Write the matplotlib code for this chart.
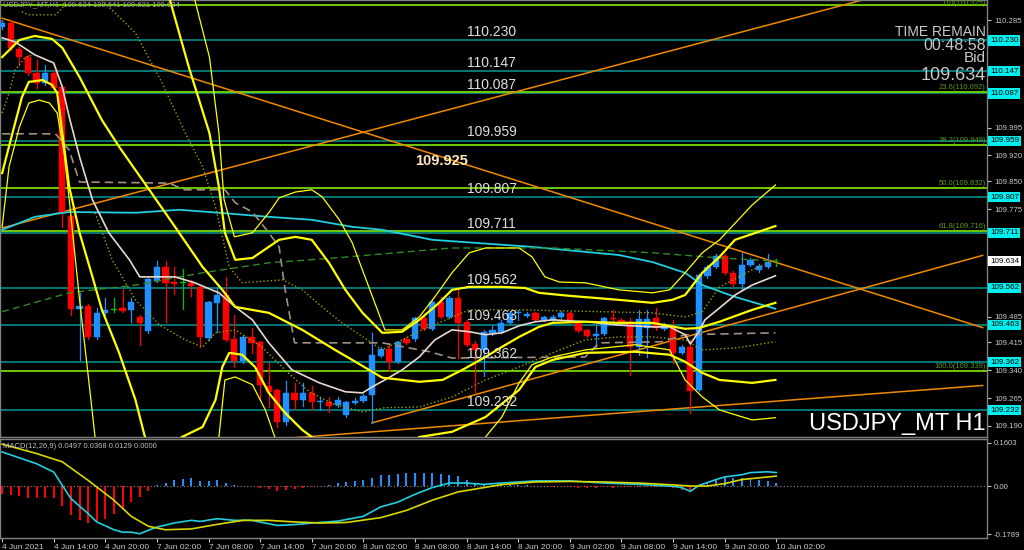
import matplotlib
matplotlib.use("Agg")
import matplotlib.pyplot as plt
import matplotlib.transforms as mtransforms

plt.rcParams['font.family'] = ['Liberation Sans', 'DejaVu Sans']

# ---- USDJPY H1 candles, bar 0 = 4 Jun 08:00, bar 90 = 10 Jun 02:00 ----
opens = [110.266, 110.277, 110.207, 110.185, 110.142, 110.115, 110.142, 110.104, 109.756, 109.506,
         109.514, 109.430, 109.495, 109.503, 109.508, 109.503, 109.484, 109.446, 109.581, 109.619,
         109.578, 109.576, 109.576, 109.565, 109.427, 109.522, 109.543, 109.425, 109.365, 109.430,
         109.417, 109.298, 109.287, 109.201, 109.279, 109.260, 109.279, 109.255, 109.255, 109.247,
         109.220, 109.252, 109.258, 109.274, 109.379, 109.398, 109.363, 109.425, 109.425, 109.481,
         109.452, 109.525, 109.484, 109.535, 109.471, 109.411, 109.395, 109.441, 109.444, 109.468,
         109.494, 109.487, 109.495, 109.476, 109.476, 109.484, 109.495, 109.468, 109.449, 109.433,
         109.438, 109.480, 109.476, 109.471, 109.403, 109.454, 109.481, 109.452, 109.460, 109.387,
         109.403, 109.287, 109.595, 109.619, 109.649, 109.603, 109.573, 109.624, 109.611, 109.619,
         109.634]
highs = [110.285, 110.285, 110.212, 110.190, 110.177, 110.164, 110.150, 110.110, 109.760, 109.549,
         109.518, 109.508, 109.535, 109.535, 109.560, 109.535, 109.490, 109.590, 109.635, 109.635,
         109.619, 109.614, 109.584, 109.570, 109.528, 109.565, 109.592, 109.489, 109.435, 109.454,
         109.420, 109.360, 109.290, 109.311, 109.306, 109.306, 109.298, 109.268, 109.268, 109.268,
         109.258, 109.265, 109.276, 109.441, 109.403, 109.414, 109.420, 109.430, 109.484, 109.490,
         109.530, 109.538, 109.540, 109.557, 109.476, 109.420, 109.450, 109.460, 109.476, 109.500,
         109.503, 109.498, 109.498, 109.487, 109.490, 109.500, 109.498, 109.471, 109.452, 109.462,
         109.484, 109.503, 109.480, 109.481, 109.503, 109.503, 109.508, 109.468, 109.476, 109.408,
         109.422, 109.600, 109.625, 109.655, 109.655, 109.608, 109.657, 109.643, 109.627, 109.654,
         109.641]
lows = [110.260, 110.205, 110.164, 110.137, 110.102, 110.110, 110.098, 109.727, 109.489, 109.368,
        109.425, 109.425, 109.490, 109.498, 109.497, 109.471, 109.409, 109.440, 109.578, 109.471,
        109.545, 109.506, 109.540, 109.403, 109.422, 109.444, 109.418, 109.350, 109.360, 109.387,
        109.260, 109.241, 109.187, 109.193, 109.236, 109.244, 109.233, 109.233, 109.228, 109.240,
        109.215, 109.248, 109.255, 109.198, 109.375, 109.339, 109.360, 109.410, 109.420, 109.448,
        109.448, 109.480, 109.480, 109.374, 109.405, 109.282, 109.325, 109.435, 109.440, 109.465,
        109.476, 109.484, 109.473, 109.473, 109.473, 109.481, 109.473, 109.443, 109.430, 109.403,
        109.435, 109.468, 109.468, 109.328, 109.382, 109.376, 109.449, 109.449, 109.360, 109.384,
        109.225, 109.284, 109.590, 109.615, 109.600, 109.568, 109.557, 109.620, 109.606, 109.615,
        109.621]
closes = [110.277, 110.210, 110.185, 110.142, 110.115, 110.142, 110.102, 109.765, 109.506, 109.514,
          109.430, 109.495, 109.503, 109.503, 109.500, 109.525, 109.468, 109.587, 109.619, 109.576,
          109.573, 109.576, 109.568, 109.430, 109.525, 109.543, 109.422, 109.365, 109.430, 109.414,
          109.301, 109.282, 109.201, 109.279, 109.260, 109.279, 109.255, 109.256, 109.244, 109.260,
          109.255, 109.258, 109.271, 109.382, 109.398, 109.363, 109.417, 109.414, 109.481, 109.452,
          109.525, 109.484, 109.535, 109.468, 109.409, 109.395, 109.444, 109.449, 109.468, 109.495,
          109.496, 109.492, 109.476, 109.484, 109.484, 109.495, 109.476, 109.446, 109.433, 109.438,
          109.481, 109.478, 109.471, 109.403, 109.479, 109.479, 109.454, 109.463, 109.387, 109.403,
          109.285, 109.597, 109.619, 109.649, 109.603, 109.573, 109.624, 109.638, 109.622, 109.632,
          109.634]

time_ticks = [0, 6, 12, 18, 24, 30, 36, 42, 48, 54, 60, 66, 72, 78, 84, 90]
time_labels = ["4 Jun 2021", "4 Jun 14:00", "4 Jun 20:00", "7 Jun 02:00", "7 Jun 08:00",
               "7 Jun 14:00", "7 Jun 20:00", "8 Jun 02:00", "8 Jun 08:00", "8 Jun 14:00",
               "8 Jun 20:00", "9 Jun 02:00", "9 Jun 08:00", "9 Jun 14:00", "9 Jun 20:00",
               "10 Jun 02:00"]

# support / resistance levels and fibo levels
sr_levels = [110.230, 110.147, 110.087, 109.959, 109.807, 109.711, 109.562, 109.463, 109.362, 109.232]
fib_pcts = ["0.0", "23.6", "38.2", "50.0", "61.8", "100.0"]
fib_levels = [110.325, 110.092, 109.949, 109.832, 109.716, 109.339]
# scale ticks that are not hidden under the level boxes
price_ticks = [110.285, 109.995, 109.920, 109.850, 109.775,
               109.485, 109.415, 109.340, 109.265, 109.190]
bid = 109.634

# trend lines (bar, price) pairs
trend_lines = [
    ([0, 114], [110.290, 109.455]),
    ([0, 114], [109.724, 110.425]),
    ([43, 114], [109.198, 109.650]),
    ([30, 114], [109.151, 109.299]),
]

# indicator lines
ma_fast_x = [0, 1.5, 3.8, 6.0, 7.0, 7.8, 9.0, 10.5, 12.4, 14.8, 16.0, 20.1, 22.4, 25.2, 27.1, 29.1, 31.0,
             33.7, 36.9, 39.9, 41.9, 43.0, 44.5, 46.5, 48.5, 50.3, 52.3, 54.3, 56.2, 58.1, 60.1, 62.0,
             64.0, 67.8, 71.7, 75.6, 77.6, 79.4, 80.0, 81.0, 81.7, 83.4, 85.2, 87.2, 89.9]
ma_fast_y = [110.237, 110.226, 110.191, 110.169, 110.104, 110.023, 109.916, 109.800, 109.711, 109.638,
             109.592, 109.592, 109.576, 109.549, 109.511, 109.476, 109.414, 109.341, 109.306, 109.282,
             109.279, 109.295, 109.314, 109.341, 109.376, 109.422, 109.449, 109.444, 109.436, 109.441,
             109.460, 109.471, 109.476, 109.471, 109.462, 109.457, 109.457, 109.436, 109.411, 109.444,
             109.476, 109.508, 109.543, 109.570, 109.595]
ma_slow_x = [0, 3.8, 7.8, 15.5, 20.6, 25.2, 31.0, 36.0, 40.7, 44.2, 50.0, 61.6, 71.7, 75.6, 79.4, 81.4,
             85.2, 89.9]
ma_slow_y = [109.719, 109.754, 109.767, 109.765, 109.773, 109.765, 109.754, 109.746, 109.727, 109.719,
             109.692, 109.673, 109.651, 109.632, 109.603, 109.570, 109.538, 109.506]
ma_long_x = [0, 7.8, 15.5, 23.3, 31.0, 38.7, 52.3, 64.0, 75.6, 83.4, 89.9]
ma_long_y = [109.498, 109.549, 109.570, 109.603, 109.630, 109.643, 109.670, 109.670, 109.657, 109.643,
             109.635]
kijun_x = [0, 6.2, 7.8, 9.0, 19.4, 21.2, 25.9, 27.1, 29.1, 31.0, 32.2, 32.9, 34.0, 44.2, 49.7, 52.3,
           67.8, 69.4, 76.7, 79.4, 89.9]
kijun_y = [109.978, 109.978, 109.934, 109.848, 109.845, 109.827, 109.827, 109.792, 109.767, 109.711,
           109.673, 109.557, 109.414, 109.414, 109.390, 109.373, 109.376, 109.414, 109.417, 109.436,
           109.441]
env_up_x = [11.6, 15.5, 18.6, 21.3, 23.3, 24.8, 26.4, 27.9, 32.6, 34.9, 37.2, 39.5, 44.2, 48.8, 54.3,
            60.1, 69.8, 75.6, 79.4, 81.4, 83.4, 87.2, 89.9]
env_up_y = [110.339, 110.250, 110.115, 109.980, 109.889, 109.781, 109.619, 109.576, 109.584, 109.557,
            109.511, 109.468, 109.395, 109.449, 109.503, 109.503, 109.498, 109.495, 109.484, 109.498,
            109.565, 109.611, 109.638]
env_dn_x = [10.8, 12.8, 15.5, 18.3, 21.3, 23.3, 24.8, 27.1, 30.2, 32.9, 35.7, 38.7, 41.9, 44.5, 48.5,
            52.3, 56.2, 60.1, 64.0, 67.8, 71.7, 75.6, 79.4, 81.4, 85.2, 89.9]
env_dn_y = [109.765, 109.638, 109.530, 109.462, 109.422, 109.403, 109.441, 109.449, 109.403, 109.341,
            109.282, 109.247, 109.228, 109.239, 109.241, 109.268, 109.314, 109.349, 109.387, 109.422,
            109.430, 109.430, 109.422, 109.395, 109.400, 109.417]
env_top_x = [0, 0.8, 1.5, 2.7, 3.5, 1.5, 2.3, 3.1, 6.2, 7.0, 7.3]
env_top_y = [110.034, 110.088, 110.150, 110.185, 110.190, None, 110.307, 110.299, 110.299, 110.317, 110.339]

bb1_x = [0, 2.0, 3.8, 5.8, 7.0, 9.0, 11.6, 13.6, 17.1, 20.1, 23.3, 25.6, 27.1, 31.0, 34.9, 38.7, 40.7,
         44.2, 48.5, 51.2, 53.5, 56.2, 58.1, 60.1, 62.4, 64.0, 67.8, 71.7, 75.6, 79.4, 81.0, 83.4, 87.2,
         89.9]
bb1_y = [110.185, 110.231, 110.242, 110.234, 110.210, 110.131, 110.015, 109.943, 109.827, 109.727,
         109.619, 109.557, 109.511, 109.495, 109.449, 109.395, 109.368, 109.320, 109.309, 109.314,
         109.341, 109.376, 109.403, 109.430, 109.457, 109.468, 109.471, 109.468, 109.468, 109.452,
         109.454, 109.471, 109.503, 109.522]
bb2_x = [0, 1.2, 2.3, 3.1, 4.7, 5.8, 6.4, 7.8, 9.0, 10.5, 11.6, 13.6, 15.5, 16.6]
bb2_y = [109.872, 109.980, 110.077, 110.118, 110.123, 110.110, 110.088, 109.835, 109.711, 109.592,
         109.503, 109.387, 109.260, 109.160]
bb3_x = [0, 0.8, 2.0, 3.1, 4.3, 5.5, 6.4, 7.2, 7.8, 9.0, 10.1, 10.8]
bb3_y = [109.727, 109.889, 109.996, 110.061, 110.069, 110.061, 110.034, 109.926, 109.800, 109.530,
         109.306, 109.160]
bb4_x = [19.5, 21.7, 24.1, 25.2, 25.9, 27.1, 29.1, 31.0, 32.2, 34.1, 36.0, 38.0, 39.9, 41.9, 44.2, 46.5,
         48.5, 50.8, 52.3, 54.3, 58.1, 60.8, 62.4, 65.9, 71.7, 75.6, 77.9, 79.4, 81.4, 83.4, 85.2, 89.9]
bb4_y = [110.339, 110.158, 109.980, 109.835, 109.711, 109.638, 109.643, 109.673, 109.692, 109.700,
         109.692, 109.630, 109.557, 109.495, 109.441, 109.444, 109.476, 109.522, 109.557, 109.565,
         109.565, 109.562, 109.549, 109.541, 109.530, 109.522, 109.530, 109.543, 109.603, 109.646,
         109.692, 109.729]
bb5_x = [22.4, 24.1, 25.2, 25.8, 27.0, 29.1, 31.0, 32.2, 34.1, 36.0, 37.2, 39.2, 40.7, 44.5, 46.5, 48.5,
         50.3, 52.3, 54.3, 56.2, 60.1, 61.6, 63.1, 64.8, 67.8, 71.7, 75.6, 77.6, 79.4, 81.4, 83.4, 87.2,
         89.9]
bb5_y = [110.339, 110.185, 109.980, 109.800, 109.700, 109.711, 109.765, 109.805, 109.821, 109.827,
         109.808, 109.746, 109.684, 109.449, 109.449, 109.484, 109.538, 109.603, 109.657, 109.670,
         109.670, 109.646, 109.592, 109.578, 109.576, 109.557, 109.549, 109.557, 109.603, 109.657,
         109.692, 109.786, 109.840]
bb6_x = [20.9, 23.3, 24.8, 25.6, 26.4, 27.9, 29.4, 31.0, 32.9, 34.9, 36.0, None, 48.5, 52.3, 56.2, 60.1,
         62.0, 64.0, 67.8, 73.6, 77.6, 79.4, 81.4, 83.4, 87.2, 89.9]
bb6_y = [109.160, 109.187, 109.260, 109.349, 109.387, 109.382, 109.349, 109.279, 109.225, 109.179,
         109.160, None, 109.160, 109.174, 109.214, 109.287, 109.349, 109.368, 109.387, 109.390, 109.382,
         109.363, 109.333, 109.314, 109.306, 109.314]
bb7_x = [25.2, 25.9, 27.1, 29.1, 30.6, 31.7, None, 56.2, 58.1, 60.1, 61.6, 64.0, 67.8, 73.6, 77.6, 79.4,
         81.4, 83.4, 87.2, 89.9]
bb7_y = [109.160, 109.314, 109.322, 109.301, 109.233, 109.160, None, 109.160, 109.214, 109.306, 109.355,
         109.376, 109.395, 109.409, 109.395, 109.314, 109.268, 109.233, 109.206, 109.212]

# MACD(12,26,9)
macd_hist = [-0.031, -0.035, -0.039, -0.045, -0.045, -0.045, -0.045, -0.076, -0.109, -0.126,
             -0.138, -0.131, -0.122, -0.103, -0.085, -0.060, -0.041, -0.019, 0.002, 0.012,
             0.021, 0.027, 0.030, 0.019, 0.020, 0.021, 0.012, 0.002, 0.001, 0.001,
             -0.006, -0.010, -0.019, -0.016, -0.012, -0.006, -0.004, -0.001, 0.004, 0.012,
             0.015, 0.019, 0.021, 0.031, 0.040, 0.042, 0.046, 0.048, 0.050, 0.048,
             0.050, 0.046, 0.042, 0.036, 0.021, 0.012, 0.006, 0.004, 0.003, 0.004,
             0.003, 0.002, 0.001, -0.001, -0.002, -0.001, -0.002, -0.006, -0.007, -0.006,
             -0.005, -0.006, -0.005, -0.004, -0.003, -0.004, -0.003, -0.004, -0.008, -0.014,
             -0.022, 0.002, 0.012, 0.021, 0.034, 0.030, 0.030, 0.027, 0.024, 0.019,
             0.013]
macd_x = [0, 4, 6, 7, 8, 10, 11, 13, 14, 15, 16, 17, 18, 20, 22, 23, 25, 27, 29, 32, 34, 36, 39, 42, 44,
          46, 48, 50, 52, 54, 56, 58, 62, 66, 70, 74, 78, 79, 80, 81, 83, 84, 86, 87, 89, 90]
macd_main = [0.127, 0.083, 0.052, 0.002, -0.047, -0.103, -0.134, -0.163, -0.172, -0.172, -0.178, -0.165,
             -0.153, -0.138, -0.128, -0.132, -0.122, -0.128, -0.128, -0.147, -0.144, -0.138, -0.131,
             -0.113, -0.078, -0.060, -0.031, -0.006, 0.011, 0.011, 0.006, 0.011, 0.019, 0.019, 0.011,
             0.006, -0.001, -0.006, -0.020, 0.002, 0.024, 0.034, 0.042, 0.050, 0.053, 0.050]
signal_x = [0, 4, 7, 10, 13, 15, 17, 19, 22, 25, 28, 31, 34, 37, 40, 44, 47, 50, 53, 56, 58, 62, 66, 70,
            74, 77, 80, 82, 84, 86, 90]
macd_signal = [0.156, 0.121, 0.090, 0.021, -0.053, -0.113, -0.150, -0.163, -0.160, -0.143, -0.128,
               -0.128, -0.134, -0.138, -0.136, -0.118, -0.091, -0.053, -0.022, -0.006, 0.005, 0.015,
               0.017, 0.015, 0.011, 0.006, 0.000, 0.000, 0.009, 0.024, 0.037]

BG = 'black'
GRID = '#808080'
TXT = '#c8c8c8'
BULL = '#1e90ff'
BEAR = '#ff0000'
TEAL = '#008b8b'
LIME = '#76d700'
ORANGE = '#f08a00'
YEL = '#ffff00'

fig = plt.figure(figsize=(10.24, 5.5), dpi=100, facecolor=BG)
ax = fig.add_axes([0, 1 - 437 / 550, 987 / 1024, 437 / 550], facecolor=BG)
axm = fig.add_axes([0, 1 - 538 / 550, 987 / 1024, 99 / 550], facecolor=BG)

xmin, xmax = -0.25, 114.5
ax.set_xlim(xmin, xmax)
ax.set_ylim(109.160, 110.339)
axm.set_xlim(xmin, xmax)
axm.set_ylim(-0.1938, 0.1752)

for a in (ax, axm):
    for s in a.spines.values():
        s.set_color(GRID)
        s.set_linewidth(1)
    a.yaxis.tick_right()
    a.tick_params(colors=TXT, labelsize=5.6, length=3, width=0.8, pad=2)

# levels
for lv in sr_levels:
    ax.axhline(lv, color=TEAL, lw=1.2, zorder=1)
    ax.text(54.0, lv + 0.012, f"{lv:.3f}", color='#e0e0e0', fontsize=10, zorder=8)
for pct, lv in zip(fib_pcts, fib_levels):
    ax.axhline(lv, color=LIME, lw=1.3, zorder=1)
    ty, tva = (lv + 0.002, 'bottom') if lv < 110.3 else (110.339, 'top')
    ax.text(114.35, ty, f"{pct}({lv:.3f})", color='#5a9a10', fontsize=5.5,
            ha='right', va=tva, zorder=8)

for xs, ys in trend_lines:
    ax.plot(xs, ys, color=ORANGE, lw=1.1, zorder=2)

# candles
for i, (o, h, l, c) in enumerate(zip(opens, highs, lows, closes)):
    col = BULL if c > o else (BEAR if c < o else '#00c000')
    ax.plot([i, i], [l, h], color=col, lw=0.9, zorder=3)
    lo, hi = min(o, c), max(o, c)
    ax.add_patch(plt.Rectangle((i - 0.36, lo), 0.72, max(hi - lo, 0.0012),
                               facecolor=col, edgecolor=col, lw=0.3, zorder=3))

# indicators
ax.plot(ma_slow_x, ma_slow_y, color='#20d0e0', lw=1.3, zorder=4)
ax.plot(ma_long_x, ma_long_y, color='#2e8b22', lw=1.0, ls=(0, (5, 3)), zorder=4)
ax.plot(kijun_x, kijun_y, color='#a09080', lw=1.2, ls=(0, (5, 3)), zorder=4)
ax.plot(env_up_x, env_up_y, color='#a0a000', lw=1.0, ls=':', zorder=4)
ax.plot(env_dn_x, env_dn_y, color='#a0a000', lw=1.0, ls=':', zorder=4)
ax.plot(env_top_x, env_top_y, color='#a0a000', lw=1.0, ls=':', zorder=4)
ax.plot(ma_fast_x, ma_fast_y, color='#e8d8d0', lw=1.2, zorder=5)
for xs, ys, w in [(bb1_x, bb1_y, 1.6), (bb2_x, bb2_y, 1.6), (bb3_x, bb3_y, 0.9),
                  (bb4_x, bb4_y, 1.6), (bb5_x, bb5_y, 0.9), (bb6_x, bb6_y, 1.6),
                  (bb7_x, bb7_y, 0.9)]:
    ax.plot(xs, ys, color=YEL, lw=w, zorder=5)

# right price scale
ax.set_yticks(price_ticks)
ax.set_yticklabels([f"{p:.3f}" for p in price_ticks])
ax.set_xticks([])
tr = mtransforms.blended_transform_factory(ax.transAxes, ax.transData)
for lv in sr_levels:
    ax.text(1.003, lv, f"{lv:.3f}", transform=tr, fontsize=5.8, color='black', va='center',
            ha='left', clip_on=False, zorder=10,
            bbox=dict(boxstyle='square,pad=0.2', facecolor='#00f0f0', edgecolor='none'))
ax.text(1.003, bid, f"{bid:.3f}", transform=tr, fontsize=5.8, color='black', va='center',
        ha='left', clip_on=False, zorder=10,
        bbox=dict(boxstyle='square,pad=0.2', facecolor='white', edgecolor='none'))

# texts
ax.text(0.003, 0.997, "USDJPY_MT,H1  109.634 109.641 109.621 109.634", transform=ax.transAxes,
        fontsize=5.5, color='#a8a8a8', va='top', ha='left', zorder=9)
ax.text(48.0, 109.905, "109.925", fontsize=10.5, fontweight='bold', color='#ffe8c0',
        va='center', zorder=9)
ax.text(114.35, 110.254, "TIME REMAIN", color=TXT, fontsize=10, ha='right', va='center', zorder=9)
ax.text(114.35, 110.217, "00:48:58", color=TXT, fontsize=11.5, ha='right', va='center', zorder=9)
ax.text(114.35, 110.182, "Bid", color=TXT, fontsize=11, ha='right', va='center', zorder=9)
ax.text(114.35, 110.136, f"{bid:.3f}", color=TXT, fontsize=13, ha='right', va='center', zorder=9)
ax.text(114.35, 109.195, "USDJPY_MT H1", color='white', fontsize=17, ha='right', va='center',
        zorder=9)

# MACD panel
bar_cols = [BULL if v >= 0 else BEAR for v in macd_hist]
axm.bar(range(len(macd_hist)), macd_hist, width=0.22, color=bar_cols, zorder=2)
axm.axhline(0, color='#909090', lw=0.8, ls=(0, (1, 2)), zorder=1)
axm.plot(macd_x, macd_main, color='#20d0e0', lw=1.2, zorder=3)
axm.plot(signal_x, macd_signal, color='#d8d800', lw=1.2, zorder=3)
axm.set_yticks([0.1603, 0.0, -0.1789])
axm.set_yticklabels(["0.1603", "0.00", "-0.1789"])
axm.text(0.003, 0.96, "MACD(12,26,9) 0.0497 0.0368 0.0129 0.0000", transform=axm.transAxes,
         fontsize=5.5, color='#c0c0c0', va='top', ha='left')
axm.set_xticks(time_ticks)
axm.set_xticklabels(time_labels)
for lab in axm.get_xticklabels():
    lab.set_horizontalalignment('left')
axm.tick_params(axis='x', labelsize=6, pad=1.5)

fig.savefig("out.png", dpi=100, facecolor=BG)
